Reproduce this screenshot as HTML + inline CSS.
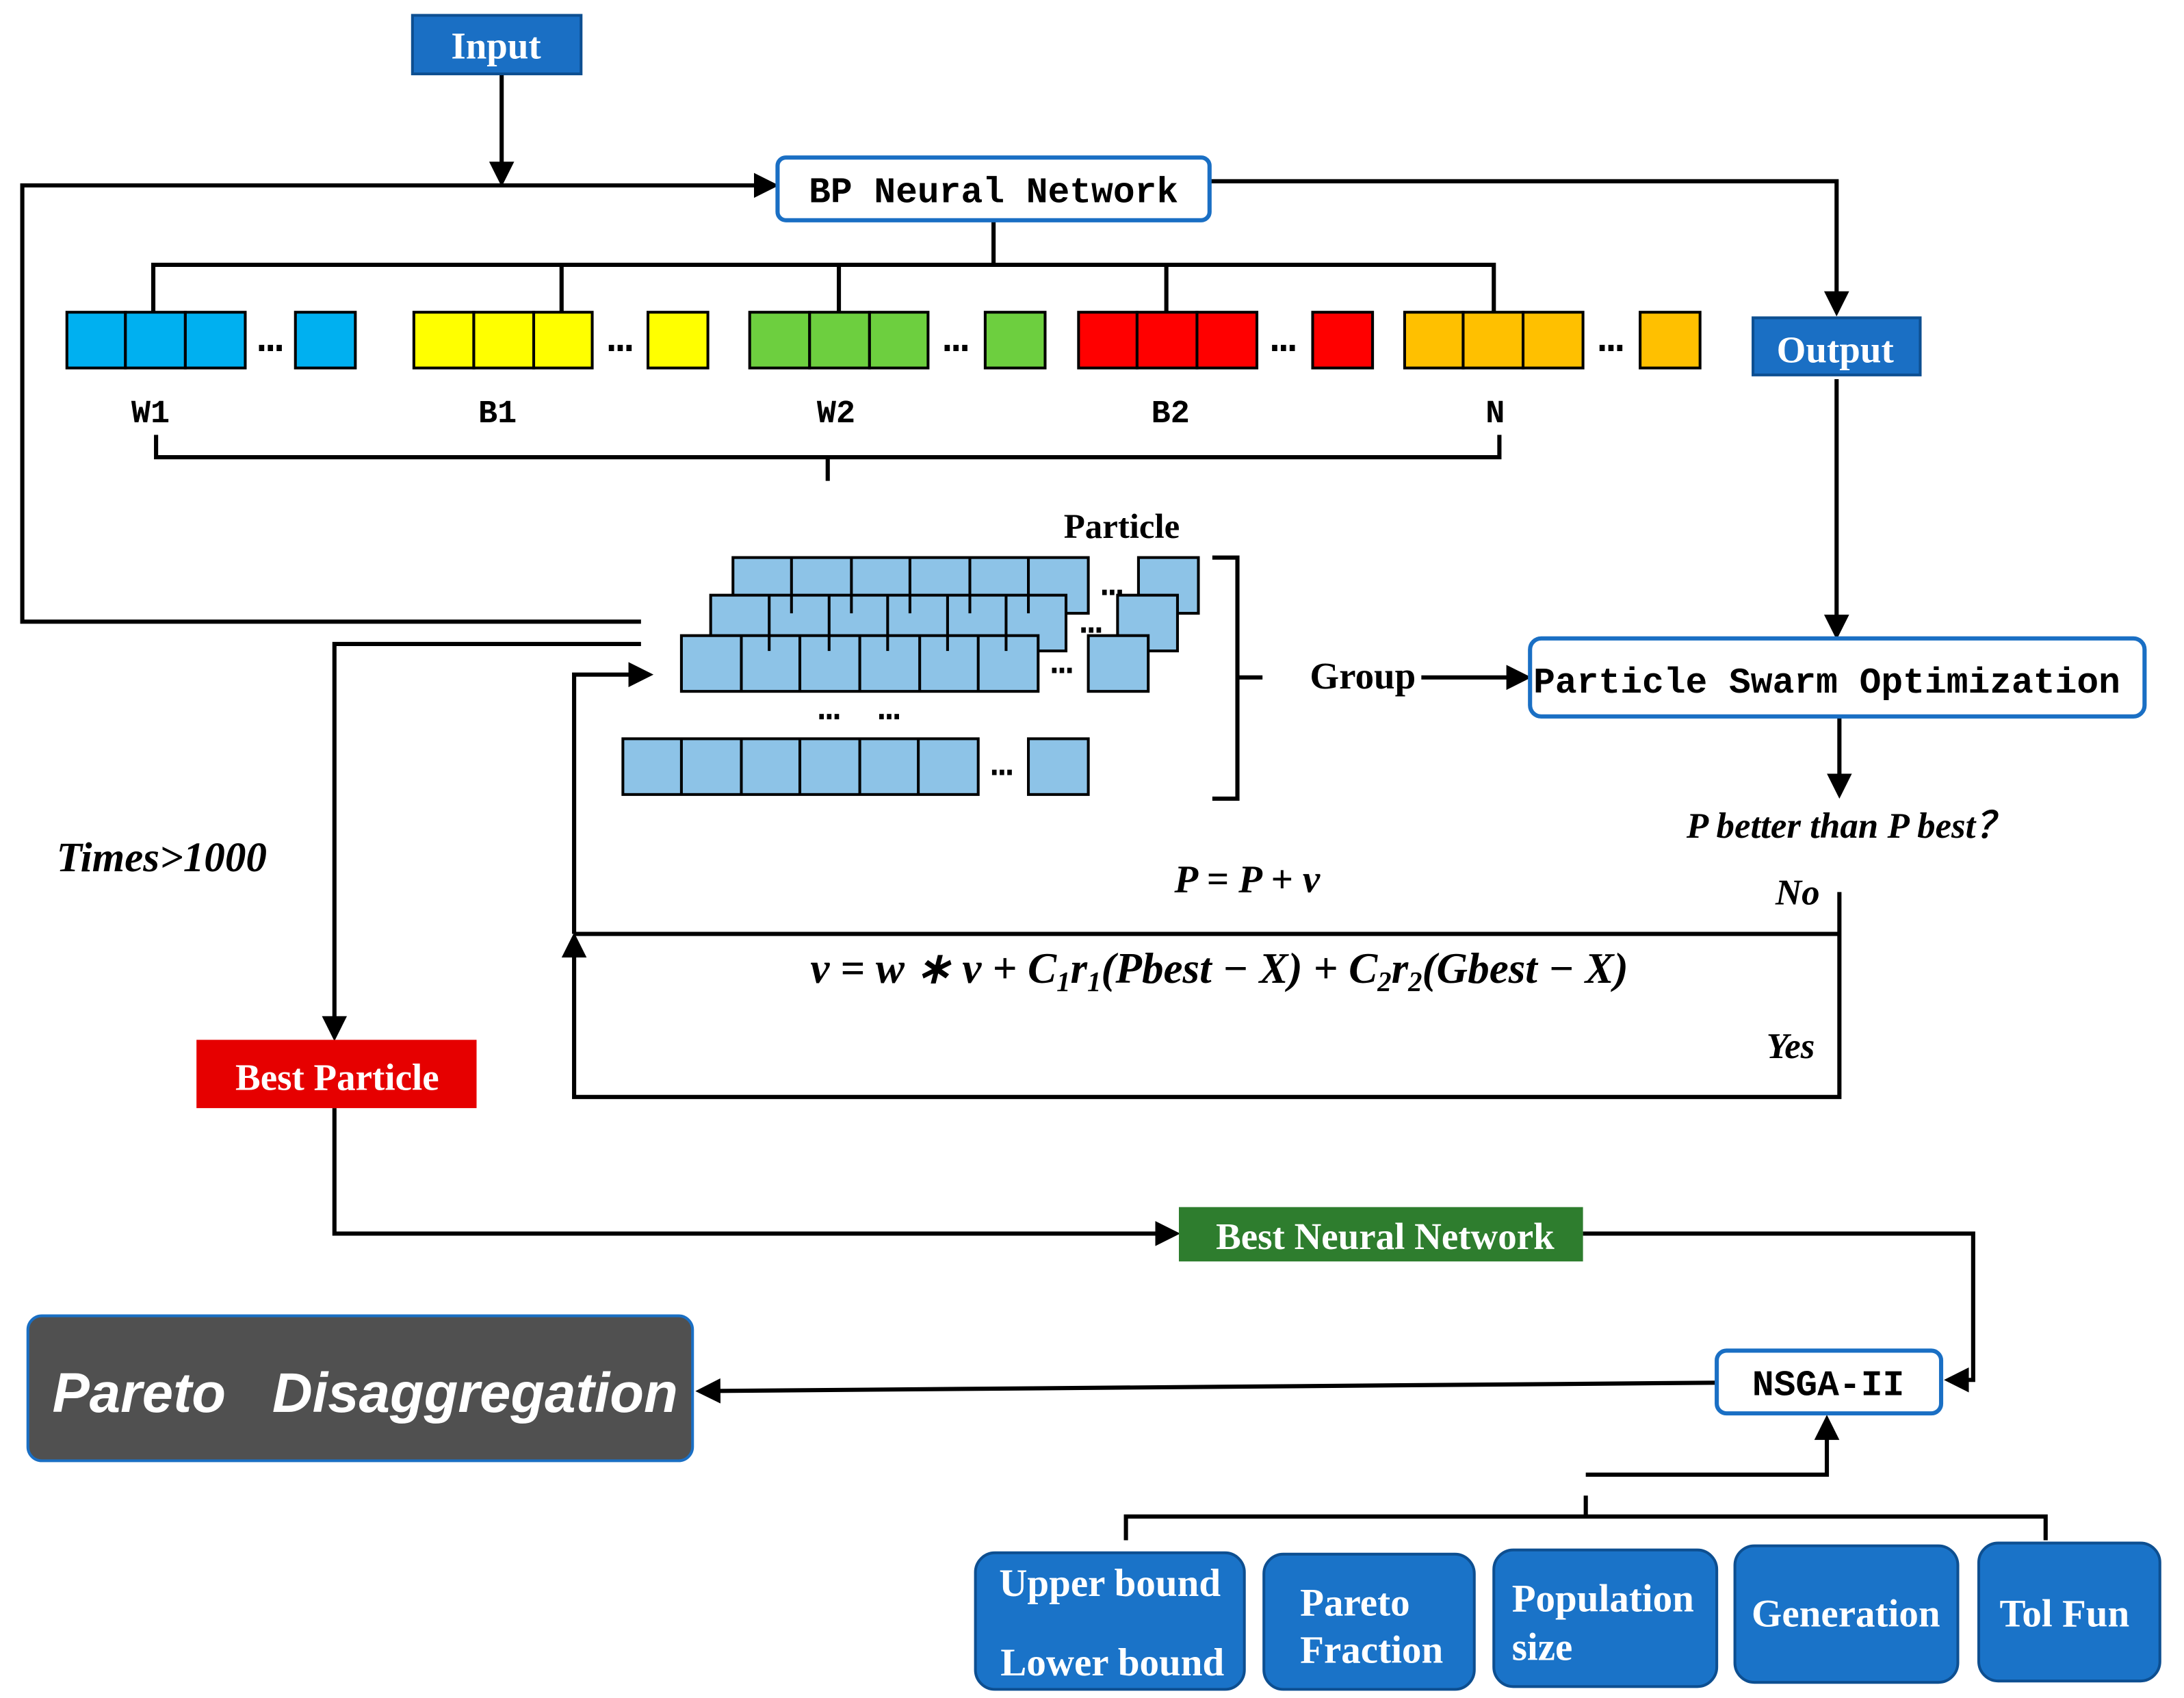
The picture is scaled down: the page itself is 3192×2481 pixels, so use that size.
<!DOCTYPE html>
<html><head><meta charset="utf-8"><style>
html,body{margin:0;padding:0;background:#fff;}
svg{display:block;}
.mono{font-family:"Liberation Mono","DejaVu Sans Mono",monospace;font-weight:bold;}
.serif{font-family:"Liberation Serif",serif;font-weight:bold;}
</style></head><body>
<svg width="3192" height="2481" viewBox="0 0 1567.3 1218.2" preserveAspectRatio="none" xmlns="http://www.w3.org/2000/svg">
<defs>
<marker id="a" markerWidth="6" markerHeight="6" refX="5" refY="3" orient="auto" markerUnits="strokeWidth"><path d="M0,0 L6,3 L0,6 z" fill="#000"/></marker>
</defs>
<g fill="none" stroke="#000" stroke-width="3">
<path d="M360,53 V131" marker-end="url(#a)"/>
<path d="M460,446 H16 V133 H556" marker-end="url(#a)"/>
<path d="M868,130 H1318 V224" marker-end="url(#a)"/>
<path d="M1318,272 V456" marker-end="url(#a)"/>
<path d="M713,158 V190 M110,224 V190 H1072 V224 M403,190 V224 M602,190 V224 M837,190 V224"/>
<path d="M112,312 V328 H594 V345 M594,328 H1076 V312"/>
<path d="M870,400 H888 V573 H870 M888,486 H906"/>
<path d="M1020,486 H1096" marker-end="url(#a)"/>
<path d="M1320,514 V570" marker-end="url(#a)"/>
<path d="M1320,640 V787 H412 V672" marker-end="url(#a)"/>
<path d="M412,670 H1320"/>
<path d="M412,670 V484 H466" marker-end="url(#a)"/>
<path d="M460,462 H240 V744" marker-end="url(#a)"/>
<path d="M240,795 V885 H844" marker-end="url(#a)"/>
<path d="M1136,885 H1416 V990 H1398" marker-end="url(#a)"/>
<path d="M1232,992 L502,998" marker-end="url(#a)"/>
<path d="M1138,1058 H1311 V1018" marker-end="url(#a)"/>
<path d="M1138,1073 V1088 M808,1105 V1088 H1468 V1105"/>
</g>
<rect x="296" y="11" width="121" height="42" fill="#1a6fc4" stroke="#0d4f91" stroke-width="2"/>
<text x="356" y="42" class="serif" font-size="27" fill="#fff" text-anchor="middle">Input</text>
<rect x="558" y="113" width="310" height="45" rx="6" fill="#fff" stroke="#1a6fc4" stroke-width="3"/>
<text x="713" y="145" class="mono" font-size="26" text-anchor="middle">BP Neural Network</text>
<rect x="1258" y="228" width="120" height="41" fill="#1a6fc4" stroke="#0d4f91" stroke-width="2"/>
<text x="1317" y="260" class="serif" font-size="27" fill="#fff" text-anchor="middle">Output</text>
<g stroke="#000" stroke-width="2">
<g fill="#00b0f0"><rect x="48" y="224" width="42" height="40"/><rect x="90" y="224" width="43" height="40"/><rect x="133" y="224" width="43" height="40"/><rect x="212" y="224" width="43" height="40"/></g>
<g fill="#ffff00"><rect x="297" y="224" width="43" height="40"/><rect x="340" y="224" width="43" height="40"/><rect x="383" y="224" width="42" height="40"/><rect x="465" y="224" width="43" height="40"/></g>
<g fill="#6dcf3f"><rect x="538" y="224" width="43" height="40"/><rect x="581" y="224" width="43" height="40"/><rect x="624" y="224" width="42" height="40"/><rect x="707" y="224" width="43" height="40"/></g>
<g fill="#ff0000"><rect x="774" y="224" width="42" height="40"/><rect x="816" y="224" width="43" height="40"/><rect x="859" y="224" width="43" height="40"/><rect x="942" y="224" width="43" height="40"/></g>
<g fill="#ffc000"><rect x="1008" y="224" width="42" height="40"/><rect x="1050" y="224" width="43" height="40"/><rect x="1093" y="224" width="43" height="40"/><rect x="1177" y="224" width="43" height="40"/></g>
</g>
<g class="mono" font-size="30" text-anchor="middle">
<text x="194" y="252">…</text><text x="445" y="252">…</text><text x="686" y="252">…</text><text x="921" y="252">…</text><text x="1156" y="252">…</text>
</g>
<g class="mono" font-size="23" text-anchor="middle">
<text x="108" y="303">W1</text><text x="357" y="303">B1</text><text x="600" y="303">W2</text><text x="840" y="303">B2</text><text x="1073" y="303">N</text>
</g>
<text x="805" y="386" class="serif" font-size="25" text-anchor="middle">Particle</text>
<g fill="#8dc3e7" stroke="#000" stroke-width="2">
<rect x="526" y="400" width="255" height="40"/><rect x="817" y="400" width="43" height="40"/>
<rect x="510" y="427" width="255" height="40"/><rect x="802" y="427" width="43" height="40"/>
<rect x="489" y="456" width="256" height="40"/><rect x="781" y="456" width="43" height="40"/>
<rect x="447" y="530" width="255" height="40"/><rect x="738" y="530" width="43" height="40"/>
<path d="M568,400V440M611,400V440M653,400V440M696,400V440M738,400V440 M552,427V467M595,427V467M637,427V467M680,427V467M722,427V467 M532,456V496M574,456V496M617,456V496M660,456V496M702,456V496 M489,530V570M532,530V570M574,530V570M617,530V570M659,530V570"/>
</g>
<g class="mono" font-size="26" text-anchor="middle">
<text x="798" y="427">…</text><text x="783" y="454">…</text><text x="762" y="483">…</text><text x="719" y="556">…</text><text x="595" y="516">…</text><text x="638" y="516">…</text>
</g>
<text x="978" y="494" class="serif" font-size="27" text-anchor="middle">Group</text>
<rect x="1098" y="458" width="441" height="56" rx="8" fill="#fff" stroke="#1a6fc4" stroke-width="3"/>
<text x="1311" y="497" class="mono" font-size="26" text-anchor="middle">Particle Swarm Optimization</text>
<g class="serif" font-style="italic">
<text x="1327" y="601" font-size="26" text-anchor="middle">P better than P best？</text>
<text x="1290" y="649" font-size="26" text-anchor="middle">No</text>
<text x="1285" y="759" font-size="26" text-anchor="middle">Yes</text>
<text x="895" y="640" font-size="28" text-anchor="middle">P = P + v</text>
<text x="875" y="705" font-size="31" text-anchor="middle">v = w ∗ v + C<tspan font-size="20" dy="6">1</tspan><tspan dy="-6">r</tspan><tspan font-size="20" dy="6">1</tspan><tspan dy="-6">(Pbest − X) + C</tspan><tspan font-size="20" dy="6">2</tspan><tspan dy="-6">r</tspan><tspan font-size="20" dy="6">2</tspan><tspan dy="-6">(Gbest − X)</tspan></text>
<text x="116" y="625" font-size="30" text-anchor="middle">Times&gt;1000</text>
</g>
<rect x="141" y="746" width="201" height="49" fill="#e60000"/>
<text x="242" y="782" class="serif" font-size="27" fill="#fff" text-anchor="middle">Best Particle</text>
<rect x="846" y="866" width="290" height="39" fill="#2e7d2e"/>
<text x="994" y="896" class="serif" font-size="27" fill="#fff" text-anchor="middle">Best Neural Network</text>
<rect x="1232" y="969" width="161" height="45" rx="7" fill="#fff" stroke="#1a6fc4" stroke-width="3"/>
<text x="1312" y="1001" class="mono" font-size="26" text-anchor="middle">NSGA-II</text>
<rect x="20" y="944" width="477" height="104" rx="10" fill="#505050" stroke="#1a6fc4" stroke-width="2"/>
<text x="262" y="1013" font-family="'Liberation Sans',sans-serif" font-weight="bold" font-style="italic" font-size="40" fill="#fff" text-anchor="middle">Pareto&#160;&#160;&#160;Disaggregation</text>
<g fill="#1a73c8" stroke="#0d4f91" stroke-width="2">
<rect x="700" y="1114" width="193" height="98" rx="14"/>
<rect x="907" y="1115" width="151" height="97" rx="14"/>
<rect x="1072" y="1112" width="160" height="98" rx="14"/>
<rect x="1245" y="1109" width="160" height="98" rx="14"/>
<rect x="1420" y="1107" width="130" height="99" rx="14"/>
</g>
<g class="serif" font-size="28" fill="#fff">
<text x="717" y="1145">Upper bound</text>
<text x="718" y="1202">Lower bound</text>
<text x="933" y="1159">Pareto</text>
<text x="933" y="1193">Fraction</text>
<text x="1085" y="1156">Population</text>
<text x="1085" y="1191">size</text>
<text x="1257" y="1167">Generation</text>
<text x="1435" y="1167">Tol Fun</text>
</g>
</svg>
</body></html>
